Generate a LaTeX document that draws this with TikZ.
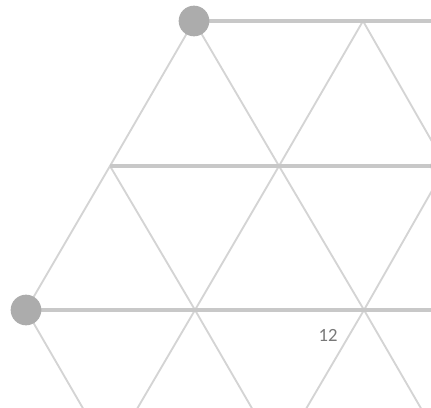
\documentclass[tikz,border=0pt]{standalone}
\usepackage{fontspec}
\setmainfont{Carlito}
\usepackage{xcolor}
\usepackage{tikz}
\usetikzlibrary{positioning, calc}
\definecolor{myrule}{RGB}{200,200,200}
\definecolor{mydiag}{RGB}{212,212,212}
\definecolor{mydot}{RGB}{172,172,172}
\definecolor{mytext}{RGB}{120,120,120}
\tikzset{
  hline/.style={line width=2.3pt, color=myrule},
  dline/.style={line width=1.4pt, color=mydiag},
  dot/.style={circle, fill=mydot, inner sep=0pt, minimum size=23pt}
}

\begin{document}
\begin{tikzpicture}[x=0.75pt, y=-0.75pt]
  \useasboundingbox (0,0) rectangle (431,407);
  \clip (0,0) rectangle (431,407);

  % lattice points, row by row
  \coordinate (a0) at (194,21);
  \coordinate (a1) at (363,21);
  \coordinate (b0) at (110,166);
  \coordinate (b1) at (279,166);
  \coordinate (b2) at (446,166);
  \coordinate (c0) at (26,310);
  \coordinate (c1) at (195,310);
  \coordinate (c2) at (364,310);
  \coordinate (d0) at (110,455);
  \coordinate (d1) at (279,455);
  \coordinate (d2) at (448,455);
  % free ends at the right border
  \coordinate (ea) at (440,21);
  \coordinate (eb) at (440,166);
  \coordinate (ec) at (440,310);

  % slanted lines
  \draw [dline] (a0) -- (b0) -- (c0) -- (d0);
  \draw [dline] (a0) -- (b1) -- (c2) -- (d2);
  \draw [dline] (a1) -- (b1) -- (c1) -- (d0);
  \draw [dline] (a1) -- (b2) -- (c2) -- (d1);
  \draw [dline] (b0) -- (c1) -- (d1);

  % horizontal lines
  \draw [hline] (a0) -- (ea);
  \draw [hline] (b0) -- (eb);
  \draw [hline] (c0) -- (ec);

  \node [dot] (top) at (a0) {};
  \node [dot] (left) at (c0) {};
  \node [dot] (right) at (b2) {};

  \node [font=\fontsize{14}{16}\selectfont, text=mytext] (num) at (328,335) {12};
\end{tikzpicture}
\end{document}
